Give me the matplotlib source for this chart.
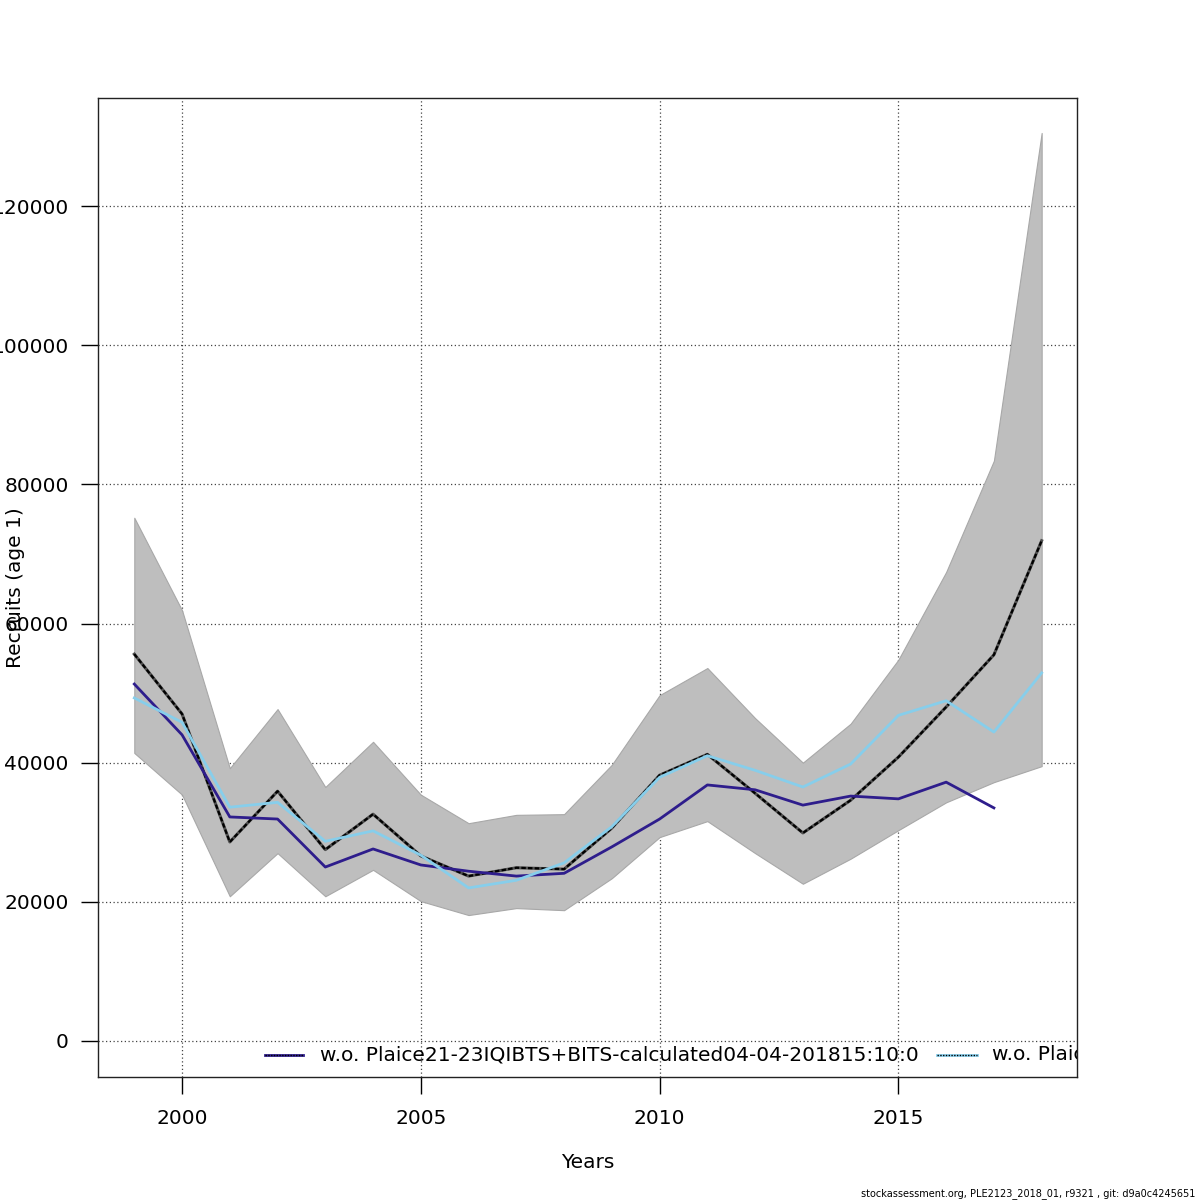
import matplotlib
matplotlib.use("Agg")
import matplotlib.pyplot as plt

years = list(range(1999, 2019))

# confidence band of the base run
upper = [75.2, 61.9, 39.2, 47.7, 36.5, 43.0, 35.4, 31.3, 32.5, 32.6,
         39.7, 49.7, 53.6, 46.4, 40.0, 45.6, 54.8, 67.4, 83.4, 130.5]
lower = [41.4, 35.4, 20.8, 27.0, 20.8, 24.6, 20.1, 18.1, 19.1, 18.8,
         23.4, 29.3, 31.6, 27.0, 22.6, 26.2, 30.3, 34.3, 37.2, 39.5]
# base run estimate
base = [55.6, 47.0, 28.6, 35.9, 27.5, 32.6, 26.6, 23.7, 24.9, 24.7,
        30.6, 38.2, 41.2, 35.6, 29.9, 34.6, 40.8, 48.0, 55.5, 71.9]
# leave-one-out runs
wo_iqbits = [51.3, 44.0, 32.2, 31.9, 25.0, 27.6, 25.3, 24.4, 23.7, 24.1,
             27.9, 31.9, 36.8, 36.1, 33.9, 35.2, 34.8, 37.2, 33.5]
wo_bits = [49.3, 45.8, 33.6, 34.3, 28.7, 30.2, 26.7, 22.0, 23.1, 25.6,
           30.8, 37.9, 41.0, 38.9, 36.5, 39.8, 46.8, 48.9, 44.4, 52.9]

labels = ["w.o. Plaice21-23IQIBTS+BITS-calculated04-04-201815:10:0",
          "w.o. Plaice21-23BITS-calculated04-04-201815:10:0"]
yticks = [0, 20000, 40000, 60000, 80000, 100000, 120000]
xticks = [2000, 2005, 2010, 2015]

navy = "#2E1D8C"
sky = "#87CEEB"
fs = 14.5

plt.rcParams["font.family"] = "DejaVu Sans"
fig = plt.figure(figsize=(12, 12), dpi=100)
ax = fig.add_axes([98 / 1200, 1 - 1077 / 1200, (1077 - 98) / 1200, (1077 - 98) / 1200])

k = 1000
ax.fill_between(years, [v * k for v in lower], [v * k for v in upper],
                facecolor="#BEBEBE", edgecolor="#A8A8A8", linewidth=0.8, zorder=1)
ax.plot(years, [v * k for v in base], color="#505050", lw=2.2, zorder=3)
ax.plot(years, [v * k for v in base], color="black", lw=1.6, ls=(0, (2, 1)), zorder=3)
ax.plot(years[:len(wo_iqbits)], [v * k for v in wo_iqbits], color=navy, lw=2.0, zorder=4)
ax.plot(years, [v * k for v in wo_bits], color=sky, lw=2.0, zorder=4)

ax.set_xlim(1998.24, 2018.74)
ax.set_ylim(-5174, 135524)
ax.set_xticks(xticks)
ax.set_yticks(yticks)
ax.set_yticklabels([str(v) for v in yticks])
ax.tick_params(direction="out", length=12, width=1, labelsize=fs, pad=9, colors="black")
ax.tick_params(axis="x", pad=11)
ax.grid(True, color="#444444", ls=(0, (1, 2)), lw=0.9)
ax.set_axisbelow(True)
for s in ax.spines.values():
    s.set_linewidth(1.0)
    s.set_color("#222222")

fig.text(588 / 1200, 1 - 1162 / 1200, "Years", fontsize=fs, ha="center", va="center")
fig.text(16 / 1200, 1 - 588 / 1200, "Recruits (age 1)", fontsize=fs, ha="center",
         va="center", rotation=90)

# legend drawn by hand so it is clipped at the axes border like the original
tr = ax.transAxes
def fx(px):
    return (px - 98) / (1077 - 98)
ly = (1077 - 1055) / (1077 - 98)
for (x0, x1, tx, col, lab) in [(265, 303, 320, navy, labels[0]),
                               (937, 977, 992, sky, labels[1])]:
    ax.plot([fx(x0), fx(x1)], [ly, ly], transform=tr, color=col, lw=2.0, clip_on=True)
    ax.plot([fx(x0), fx(x1)], [ly, ly], transform=tr, color="black", lw=1.0,
            ls=(0, (1, 1)), clip_on=True)
    ax.text(fx(tx), ly, lab, transform=tr, fontsize=fs, va="center", ha="left",
            clip_on=True)

fig.text(1195 / 1200, 1 - 1194 / 1200,
         "stockassessment.org, PLE2123_2018_01, r9321 , git: d9a0c4245651",
         fontsize=7, ha="right", va="center")

fig.savefig("out.png", dpi=100)
